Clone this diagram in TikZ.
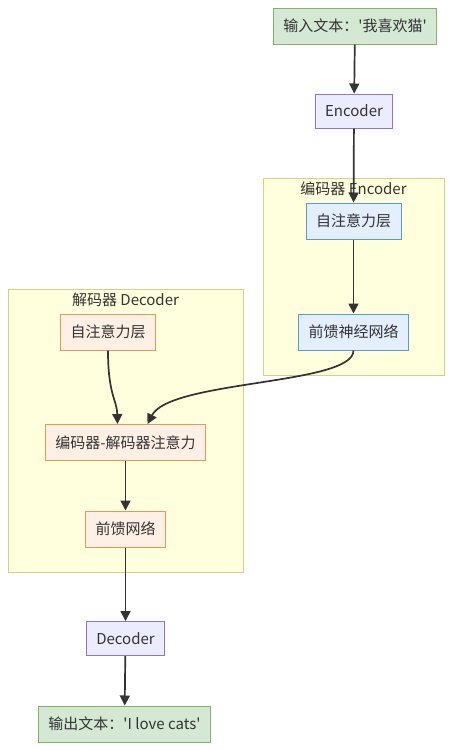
\documentclass[tikz,border=0pt]{standalone}
\usepackage{fontspec}
\setmainfont{Noto Sans CJK SC}[Ligatures=TeXOff]
\usetikzlibrary{arrows.meta}
\definecolor{ioFill}{HTML}{D5E8D4}\definecolor{ioLine}{HTML}{82B366}
\definecolor{blkFill}{HTML}{ECECFF}\definecolor{blkLine}{HTML}{9370DB}
\definecolor{encFill}{HTML}{E3EFFC}\definecolor{encLine}{HTML}{5B9BD5}
\definecolor{decFill}{HTML}{FFF0E6}\definecolor{decLine}{HTML}{E39A52}
\definecolor{clFill}{HTML}{FFFFDE}\definecolor{clLine}{HTML}{D2D28A}
\definecolor{edge}{HTML}{333333}
\begin{document}
\begin{tikzpicture}[x=1pt,y=-1pt,
  box/.style={rectangle,draw,line width=1pt,minimum height=36pt,inner xsep=10pt,inner ysep=0pt,
    font=\fontsize{15}{18}\selectfont,text=edge},
  io/.style={box,fill=ioFill,draw=ioLine},
  blk/.style={box,fill=blkFill,draw=blkLine,minimum height=34pt},
  enc/.style={box,fill=encFill,draw=encLine},
  dec/.style={box,fill=decFill,draw=decLine},
  cl/.style={rectangle,fill=clFill,draw=clLine,line width=1pt},
  e/.style={draw=edge,line width=1.7pt,-{Triangle[length=10pt,width=10pt]}},
  lab/.style={font=\fontsize{15}{18}\selectfont,text=edge,inner sep=1pt}]
  \useasboundingbox (0,0) rectangle (452,750);
  % clusters
  \node[cl,minimum width=181pt,minimum height=197pt] (encc) at (353.5,276.5) {};
  \node[cl,minimum width=235pt,minimum height=283pt] (decc) at (125.5,430.5) {};
  \node[lab,anchor=north] at ([yshift=-3pt]encc.north) {编码器 Encoder};
  \node[lab,anchor=north] at ([yshift=-3pt]decc.north) {解码器 Decoder};
  % nodes
  \node[io] (in) at (355,26) {输入文本：'我喜欢猫'};
  \node[blk] (encoder) at (354,111) {Encoder};
  \node[enc] (esa) at (353.5,221) {自注意力层};
  \node[enc] (effn) at (353.5,332) {前馈神经网络};
  \node[dec] (dsa) at (108,332) {自注意力层};
  \node[dec] (dca) at (125.5,442.5) {编码器-解码器注意力};
  \node[dec] (dffn) at (125.5,529) {前馈网络};
  \node[blk] (decoder) at (125.5,638.5) {Decoder};
  \node[io] (out) at (124.5,724) {输出文本：'I love cats'};
  % edges
  \draw[e] (in) -- (encoder);
  \draw[e] (encoder) -- (esa);
  \draw[e] (esa) -- (effn);
  \draw[e] (effn.south) .. controls (353.5,385) and (170,380) .. ([xshift=22pt]dca.north);
  \draw[e] (dsa.south) .. controls (108,395) and (117,400) .. ([xshift=-8pt]dca.north);
  \draw[e] (dca) -- (dffn);
  \draw[e] (dffn) -- (decoder);
  \draw[e] (decoder) -- (out);
\end{tikzpicture}
\end{document}
